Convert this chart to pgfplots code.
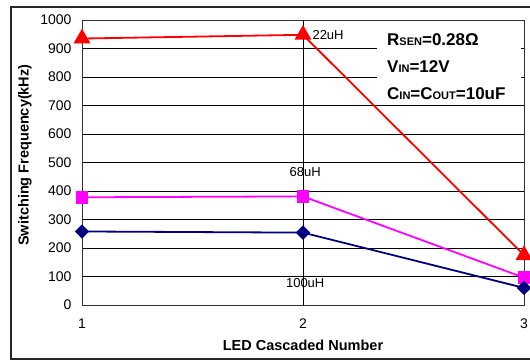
\documentclass[border=0pt]{standalone}
\usepackage{pgfplots}
\pgfplotsset{compat=1.18}
\usepackage{fontspec}
\setmainfont{Liberation Sans}
\definecolor{navyline}{RGB}{0,0,128}
\definecolor{magline}{RGB}{255,0,255}
\definecolor{redline}{RGB}{255,0,0}
\begin{document}
\begin{tikzpicture}[x=1pt,y=1pt]
\useasboundingbox (0,0) rectangle (530,360);
\draw[line width=1.5pt, black!85] (11,1) rectangle (545,353);
\begin{axis}[
  at={(82pt,55pt)}, anchor=south west, scale only axis,
  width=442pt, height=285pt,
  xmin=1, xmax=3, ymin=0, ymax=1000,
  xtick={1,2,3}, ytick={0,100,...,1000},
  grid=major,
  major grid style={black, line width=0.6pt},
  axis line style={black!80, line width=0.8pt},
  major tick length=0pt,
  clip=false,
  /pgf/number format/assume math mode=true,
  /pgf/number format/1000 sep={},
  tick label style={font=\fontsize{14}{16}\selectfont},
  yticklabel style={xshift=-7pt},
  xticklabel style={yshift=-10pt},
  xlabel={LED Cascaded Number},
  ylabel={Switching Frequency(kHz)},
  every axis x label/.style={at={(axis description cs:0.5,0)}, anchor=center, yshift=-40pt,
    font=\bfseries\fontsize{14.5}{16}\selectfont},
  every axis y label/.style={at={(axis description cs:-0.129,0.526)}, anchor=center, rotate=90,
    font=\bfseries\fontsize{14.5}{16}\selectfont},
]
\addplot[redline, line width=1.8pt, mark=triangle*, mark size=8pt, mark options={solid}]
  coordinates {(1,935) (2,948) (3,175)};
\addplot[magline, line width=1.8pt, mark=square*, mark size=5.5pt]
  coordinates {(1,378) (2,381) (3,96)};
\addplot[navyline, line width=1.8pt, mark=square*, mark size=4.2pt, mark options={rotate=45}]
  coordinates {(1,258) (2,254) (3,60)};
\node[anchor=west, font=\fontsize{13}{15}\selectfont] at (axis cs:2,948) [xshift=6pt] {22uH};
\node[font=\fontsize{13}{15}\selectfont] at (axis cs:2.01,467) {68uH};
\node[font=\fontsize{13}{15}\selectfont] at (axis cs:2.01,77) {100uH};
\node[fill=white, inner sep=0pt, minimum width=144pt, minimum height=78pt, anchor=north west]
  at (axis cs:2.335,982) {};
\node[anchor=west, font=\bfseries\fontsize{17}{20}\selectfont] at (axis cs:2.365,930)
  {R{\fontsize{11}{12}\selectfont SEN}=0.28Ω};
\node[anchor=west, font=\bfseries\fontsize{17}{20}\selectfont] at (axis cs:2.365,836)
  {V{\fontsize{11}{12}\selectfont IN}=12V};
\node[anchor=west, font=\bfseries\fontsize{17}{20}\selectfont] at (axis cs:2.365,741)
  {C{\fontsize{11}{12}\selectfont IN}=C{\fontsize{11}{12}\selectfont OUT}=10uF};
\end{axis}
\end{tikzpicture}
\end{document}
